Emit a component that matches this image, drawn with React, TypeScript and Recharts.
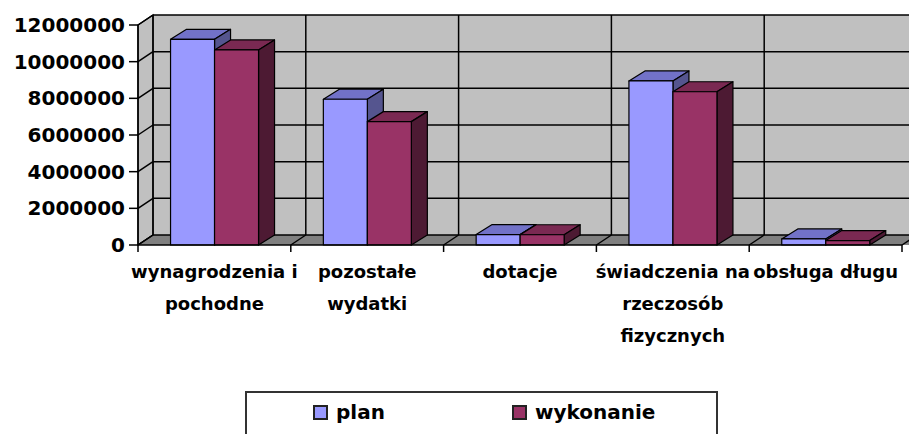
import React from "react";
import { BarChart, Bar, XAxis, YAxis, Legend, ReferenceArea } from "recharts";

const categories = [
  "wynagrodzenia i pochodne",
  "pozostałe wydatki",
  "dotacje",
  "świadczenia na rzecz osób fizycznych",
  "obsługa długu",
];
const categoryLines = [
  ["wynagrodzenia i", "pochodne"],
  ["pozostałe", "wydatki"],
  ["dotacje"],
  ["świadczenia na", "rzeczosób", "fizycznych"],
  ["obsługa długu"],
];
const planValues = [11220000, 7950000, 570000, 8950000, 330000];
const wykonanieValues = [10640000, 6730000, 560000, 8360000, 240000];
const yTicks = [0, 2000000, 4000000, 6000000, 8000000, 10000000, 12000000];
const yMax = 12000000;

const data = categories.map((name, i) => ({
  name,
  plan: planValues[i],
  wykonanie: wykonanieValues[i],
}));

const FONT = "'DejaVu Sans', Verdana, sans-serif";

// depth of the fake 3D walls / columns
const WALL_DX = 15;
const WALL_DY = -10;
const BAR_DX = 16;
const BAR_DY = -10;

const Box3D = (props: any) => {
  const { x, y, width, height, front, top, side } = props;
  if (x == null || width == null || height == null) return null;
  const r = x + width;
  const b = y + height;
  return (
    <g stroke="#000" strokeWidth={1.2} strokeLinejoin="round">
      <polygon
        points={`${x},${y} ${x + BAR_DX},${y + BAR_DY} ${r + BAR_DX},${y + BAR_DY} ${r},${y}`}
        fill={top}
      />
      <polygon
        points={`${r},${y} ${r + BAR_DX},${y + BAR_DY} ${r + BAR_DX},${b + BAR_DY} ${r},${b}`}
        fill={side}
      />
      <rect x={x} y={y} width={width} height={height} fill={front} />
    </g>
  );
};

const Walls = (props: any) => {
  const { x, y, width, height } = props;
  if (x == null) return null;
  const dx = WALL_DX;
  const dy = WALL_DY;
  const right = x + width;
  const bottom = y + height;
  const n = categories.length;
  const cw = width / n;
  const tickY = yTicks.map((v) => y + height * (1 - v / yMax));
  const bounds = Array.from({ length: n + 1 }, (_, i) => x + i * cw);
  return (
    <g>
      <rect x={x + dx} y={y + dy} width={width + 20} height={height} fill="#c0c0c0" />
      <polygon
        points={`${x},${y} ${x + dx},${y + dy} ${x + dx},${bottom + dy} ${x},${bottom}`}
        fill="#c0c0c0"
        stroke="#000"
        strokeWidth={1.3}
      />
      <polygon
        points={`${x},${bottom} ${x + dx},${bottom + dy} ${right + dx + 20},${bottom + dy} ${right + 20},${bottom}`}
        fill="#808080"
      />
      <g stroke="#000" strokeWidth={1.5}>
        {tickY.map((t, i) => (
          <line key={`bg-${i}`} x1={x + dx} y1={t + dy} x2={right + dx + 20} y2={t + dy} />
        ))}
        {tickY.map((t, i) => (
          <line key={`lg-${i}`} x1={x} y1={t} x2={x + dx} y2={t + dy} />
        ))}
        {bounds.map((bx, i) => (
          <line key={`vg-${i}`} x1={bx + dx} y1={y + dy} x2={bx + dx} y2={bottom + dy} />
        ))}
        {bounds.map((bx, i) => (
          <line key={`fg-${i}`} x1={bx} y1={bottom} x2={bx + dx} y2={bottom + dy} />
        ))}
        {bounds.map((bx, i) => (
          <line key={`tk-${i}`} x1={bx} y1={bottom} x2={bx} y2={bottom + 7} />
        ))}
      </g>
    </g>
  );
};

const CategoryTick = (props: any) => {
  const { x, y, payload } = props;
  const lines = categoryLines[payload.index] || [payload.value];
  return (
    <text
      x={x}
      y={y + 25}
      textAnchor="middle"
      fontFamily={FONT}
      fontWeight="bold"
      fontSize={18}
      fill="#000"
    >
      {lines.map((l, i) => (
        <tspan key={i} x={x} dy={i === 0 ? 0 : 32}>
          {l}
        </tspan>
      ))}
    </text>
  );
};

const LegendBox = (props: any) => {
  const { payload } = props;
  return (
    <div
      style={{
        display: "flex",
        paddingLeft: 66,
        paddingTop: 8,
        fontFamily: FONT,
        fontWeight: "bold",
        fontSize: 20,
        lineHeight: "22px",
        color: "#000",
      }}
    >
      {(payload || []).map((entry: any) => (
        <div key={entry.value} style={{ width: 199, display: "flex", alignItems: "center" }}>
          <span
            style={{
              display: "inline-block",
              width: 11,
              height: 11,
              border: "2px solid #222",
              background: entry.color,
              marginRight: 8,
            }}
          />
          <span>{entry.value}</span>
        </div>
      ))}
    </div>
  );
};

export default function App() {
  return (
    <div
      style={{
        position: "absolute",
        left: 0,
        top: 0,
        width: 909,
        height: 434,
        overflow: "hidden",
        background: "#fff",
      }}
    >
      <BarChart
        width={909}
        height={434}
        data={data}
        margin={{ top: 25, right: 7, left: 0, bottom: 149 }}
        barCategoryGap="21.3%"
        barGap={0}
      >
        <ReferenceArea
          y1={0}
          y2={yMax}
          ifOverflow="visible"
          shape={(p: any) => <Walls {...p} />}
        />
        <XAxis
          dataKey="name"
          height={40}
          interval={0}
          tickLine={false}
          axisLine={{ stroke: "#000", strokeWidth: 1.5 }}
          tick={<CategoryTick />}
        />
        <YAxis
          width={138}
          domain={[0, yMax]}
          ticks={yTicks}
          interval={0}
          tickFormatter={(v) => String(v)}
          tickSize={9}
          tickMargin={4}
          tickLine={{ stroke: "#000", strokeWidth: 1.5 }}
          axisLine={{ stroke: "#000", strokeWidth: 1.5 }}
          tick={{ fontFamily: FONT, fontWeight: "bold", fontSize: 20, fill: "#000" }}
        />
        <Legend
          layout="horizontal"
          align="center"
          verticalAlign="middle"
          content={<LegendBox />}
          wrapperStyle={{
            left: 245,
            top: 391,
            width: 473,
            height: 56,
            border: "2px solid #333",
            boxSizing: "border-box",
            background: "#fff",
          }}
        />
        <Bar
          dataKey="plan"
          name="plan"
          fill="#9999ff"
          isAnimationActive={false}
          shape={(p: any) => <Box3D {...p} front="#9999ff" top="#7272c8" side="#55558f" />}
        />
        <Bar
          dataKey="wykonanie"
          name="wykonanie"
          fill="#993366"
          isAnimationActive={false}
          shape={(p: any) => <Box3D {...p} front="#993366" top="#7a2952" side="#4d1a33" />}
        />
      </BarChart>
    </div>
  );
}
